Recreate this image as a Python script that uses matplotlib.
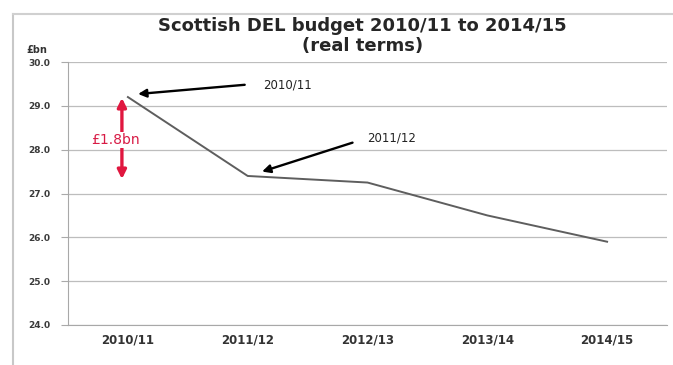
import matplotlib
matplotlib.use("Agg")
import matplotlib.pyplot as plt
from matplotlib.lines import Line2D

categories = ["2010/11", "2011/12", "2012/13", "2013/14", "2014/15"]
budget_bn = [29.2, 27.4, 27.25, 26.5, 25.9]
y_ticks = [24.0, 25.0, 26.0, 27.0, 28.0, 29.0, 30.0]
gap_label = "£1.8bn"
gap_top = 29.18
gap_bottom = 27.33

W, H = 673, 365
fig = plt.figure(figsize=(W / 100, H / 100), dpi=100)
fig.patch.set_facecolor("white")

ax = fig.add_axes([68 / W, 1 - 325 / H, (667 - 68) / W, (325 - 62) / H])
x = list(range(len(categories)))
ax.plot(x, budget_bn, color="#5e5e5e", lw=1.4, zorder=3)

ax.set_xlim(-0.5, len(categories) - 0.5)
ax.set_ylim(24.0, 30.0)
ax.set_yticks(y_ticks)
ax.set_yticklabels([f"{v:.1f}" for v in y_ticks], fontsize=6.5, fontweight="bold",
                   color="#3a3a3a", family="DejaVu Sans")
ax.set_xticks(x)
ax.set_xticklabels(categories, fontsize=8.5, fontweight="bold", color="#333333",
                   family="DejaVu Sans")
ax.tick_params(axis="y", length=5, width=0.8, color="#aaaaaa", pad=8)
ax.tick_params(axis="x", length=0, pad=6)
ax.grid(axis="y", color="#bdbdbd", lw=0.9)
ax.set_axisbelow(True)
for s in ["top", "right"]:
    ax.spines[s].set_visible(False)
ax.spines["left"].set_color("#a8a8a8")
ax.spines["bottom"].set_color("#a8a8a8")

# red double arrow with label
ax.annotate("", xy=(-0.05, gap_top), xytext=(-0.05, gap_bottom),
            arrowprops=dict(arrowstyle="<|-|>", color="#e0173f", lw=2.4,
                            mutation_scale=13, shrinkA=0, shrinkB=0), zorder=4)
ax.text(-0.1, 28.22, gap_label, color="#d81b45", fontsize=10, ha="center", va="center",
        family="DejaVu Sans",
        bbox=dict(facecolor="white", edgecolor="none", pad=1), zorder=5)

# black callout arrows
ax.annotate("", xy=(0.085, 29.27), xytext=(0.975, 29.48),
            arrowprops=dict(arrowstyle="-|>", color="black", lw=1.7,
                            mutation_scale=12, shrinkA=0, shrinkB=0), zorder=4)
ax.text(1.125, 29.48, categories[0], fontsize=8.5, ha="left", va="center", color="#222222")
ax.annotate("", xy=(1.12, 27.5), xytext=(1.875, 28.16),
            arrowprops=dict(arrowstyle="-|>", color="black", lw=1.7,
                            mutation_scale=12, shrinkA=0, shrinkB=0), zorder=4)
ax.text(2.0, 28.27, categories[1], fontsize=8.5, ha="left", va="center", color="#222222")

# titles
fig.text(0.538, 1 - 26 / H, "Scottish DEL budget 2010/11 to 2014/15", ha="center",
         va="center", fontsize=13, fontweight="bold", color="#262626", family="DejaVu Sans")
fig.text(0.538, 1 - 46 / H, "(real terms)", ha="center", va="center", fontsize=13,
         fontweight="bold", color="#262626", family="DejaVu Sans")
fig.text(26 / W, 1 - 50 / H, "£bn", ha="left", va="center", fontsize=7,
         fontweight="bold", color="#333333", family="DejaVu Sans")

# outer frame (left and top)
fig.add_artist(Line2D([13 / W, 13 / W], [0, 1 - 14 / H], color="#c8c8c8", lw=1.5,
                      transform=fig.transFigure))
fig.add_artist(Line2D([13 / W, 1], [1 - 14 / H, 1 - 14 / H], color="#d0d0d0", lw=1.5,
                      transform=fig.transFigure))

fig.savefig("out.png", dpi=100)
